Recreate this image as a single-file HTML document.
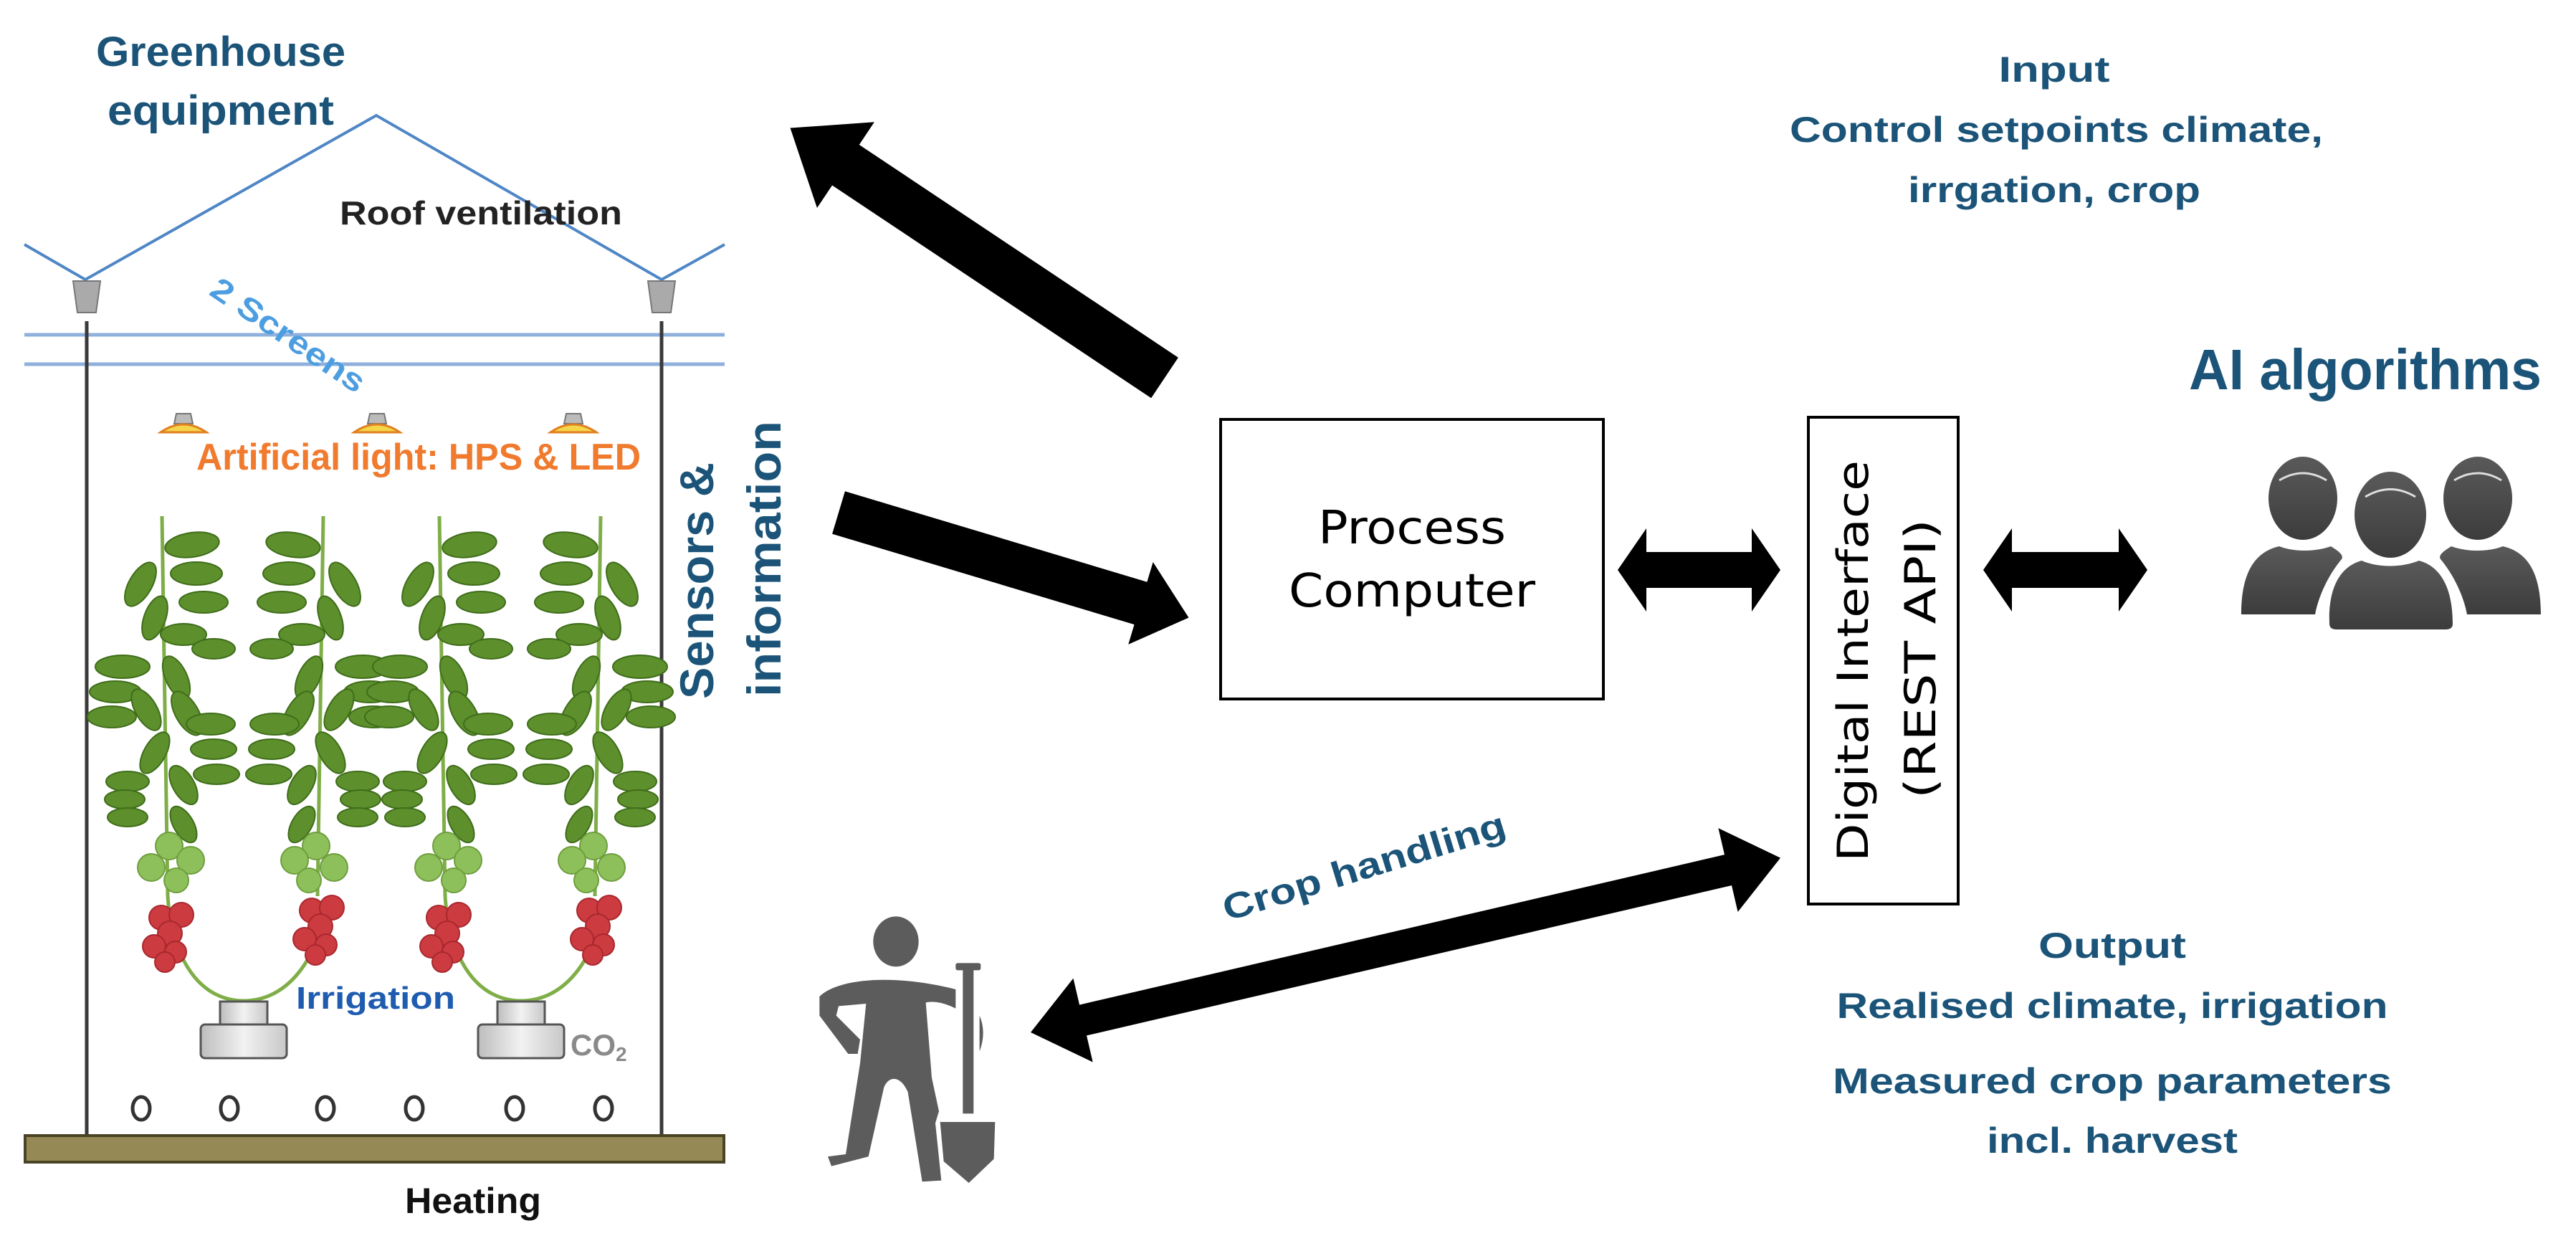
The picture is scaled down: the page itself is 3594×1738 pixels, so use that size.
<!DOCTYPE html>
<html><head><meta charset="utf-8"><style>
html,body{margin:0;padding:0;background:#fff;}
svg{display:block;}
text{font-family:"Liberation Sans Narrow","Liberation Sans",sans-serif;font-weight:bold;}
.t{fill:#1b5478;}
</style></head><body>
<svg width="3594" height="1738" viewBox="0 0 3594 1738" xmlns="http://www.w3.org/2000/svg">
<defs>
<linearGradient id="pg" x1="0" y1="0" x2="0" y2="1"><stop offset="0" stop-color="#5a5a5a"/><stop offset="1" stop-color="#3c3c3c"/></linearGradient>
<linearGradient id="pot" x1="0" y1="0" x2="1" y2="0"><stop offset="0" stop-color="#bdbdbd"/><stop offset="0.5" stop-color="#f2f2f2"/><stop offset="1" stop-color="#c8c8c8"/></linearGradient>
<g id="stem">
<path d="M0,720 L8,1250" stroke="#7fae48" stroke-width="5" fill="none"/>
<g fill="#5d8f2c" stroke="#3f6d1a" stroke-width="2">
<ellipse cx="42" cy="760" rx="38" ry="17" transform="rotate(-8 42 760)"/>
<ellipse cx="48" cy="800" rx="36" ry="16"/>
<ellipse cx="-30" cy="815" rx="16" ry="34" transform="rotate(30 -30 815)"/>
<ellipse cx="58" cy="840" rx="34" ry="15"/>
<ellipse cx="-10" cy="862" rx="15" ry="32" transform="rotate(20 -10 862)"/>
<ellipse cx="30" cy="885" rx="32" ry="15"/>
<ellipse cx="72" cy="905" rx="30" ry="14"/>
<ellipse cx="-55" cy="930" rx="38" ry="16"/>
<ellipse cx="-65" cy="965" rx="36" ry="15"/>
<ellipse cx="-70" cy="1000" rx="34" ry="15"/>
<ellipse cx="-22" cy="990" rx="15" ry="32" transform="rotate(-30 -22 990)"/>
<ellipse cx="20" cy="945" rx="15" ry="32" transform="rotate(-25 20 945)"/>
<ellipse cx="35" cy="995" rx="16" ry="34" transform="rotate(-30 35 995)"/>
<ellipse cx="68" cy="1010" rx="34" ry="15"/>
<ellipse cx="72" cy="1045" rx="32" ry="14"/>
<ellipse cx="76" cy="1080" rx="32" ry="14"/>
<ellipse cx="-10" cy="1050" rx="15" ry="32" transform="rotate(30 -10 1050)"/>
<ellipse cx="30" cy="1095" rx="15" ry="30" transform="rotate(-30 30 1095)"/>
<ellipse cx="-48" cy="1090" rx="30" ry="14"/>
<ellipse cx="-52" cy="1115" rx="28" ry="13"/>
<ellipse cx="-48" cy="1140" rx="28" ry="13"/>
<ellipse cx="30" cy="1150" rx="14" ry="28" transform="rotate(-30 30 1150)"/>
</g>
<g fill="#8dc05a" stroke="#6e9e3e" stroke-width="2">
<circle cx="10" cy="1180" r="19"/><circle cx="40" cy="1200" r="19"/><circle cx="-15" cy="1210" r="19"/><circle cx="20" cy="1228" r="17"/>
</g>
</g>
<g id="toms" fill="#cc3b40" stroke="#a8282e" stroke-width="2">
<circle cx="0" cy="0" r="17"/><circle cx="28" cy="-4" r="17"/><circle cx="12" cy="22" r="17"/><circle cx="-10" cy="40" r="16"/><circle cx="20" cy="48" r="15"/><circle cx="5" cy="62" r="14"/>
</g>
<g id="pair">
<use href="#stem" x="-114"/>
<g transform="translate(111,0) scale(-1,1)"><use href="#stem"/></g>
<path d="M-106,1250 C-100,1340 -60,1396 0,1396 C60,1396 105,1340 118,1250" stroke="#7fae48" stroke-width="5" fill="none"/>
<use href="#toms" x="-115" y="1280"/>
<use href="#toms" x="95" y="1270"/>
<rect x="-33" y="1397" width="66" height="32" fill="url(#pot)" stroke="#555" stroke-width="3"/>
<rect x="-60" y="1429" width="120" height="47" rx="6" fill="url(#pot)" stroke="#555" stroke-width="3"/>
</g>
<g id="lamp">
<path d="M-10,0 L10,0 L13,14 L-13,14 Z" fill="#bbb" stroke="#777" stroke-width="2"/>
<path d="M-32,26 Q0,4 32,26 Z" fill="#f5d54a" stroke="#e08020" stroke-width="3"/>
</g>
</defs>

<!-- Greenhouse -->
<text x="308" y="92" font-size="58" class="t" text-anchor="middle" textLength="348" lengthAdjust="spacingAndGlyphs" style="font-family:'Liberation Sans',sans-serif">Greenhouse</text>
<text x="308" y="174" font-size="58" class="t" text-anchor="middle" textLength="316" lengthAdjust="spacingAndGlyphs" style="font-family:'Liberation Sans',sans-serif">equipment</text>
<polyline points="34,341 119,390 525,161 923,390 1011,341" fill="none" stroke="#4f86c6" stroke-width="4"/>
<text x="474" y="313" font-size="46" fill="#222" textLength="394" lengthAdjust="spacingAndGlyphs">Roof ventilation</text>
<path d="M102,392 L140,392 L134,436 L108,436 Z" fill="#aaa" stroke="#777" stroke-width="2"/>
<path d="M904,392 L942,392 L936,436 L910,436 Z" fill="#aaa" stroke="#777" stroke-width="2"/>
<line x1="34" y1="467" x2="1011" y2="467" stroke="#8fb0dc" stroke-width="5"/>
<line x1="34" y1="508" x2="1011" y2="508" stroke="#8fb0dc" stroke-width="5"/>
<text transform="translate(290,410) rotate(34)" font-size="44" fill="#4d9ee0" textLength="250" lengthAdjust="spacingAndGlyphs">2 Screens</text>
<line x1="121" y1="448" x2="121" y2="1585" stroke="#3a3a3a" stroke-width="5"/>
<line x1="923" y1="448" x2="923" y2="1585" stroke="#3a3a3a" stroke-width="5"/>
<use href="#lamp" x="256" y="577"/><use href="#lamp" x="526" y="577"/><use href="#lamp" x="800" y="577"/>
<text x="274" y="655" font-size="52" fill="#f07a2e" textLength="620" lengthAdjust="spacingAndGlyphs">Artificial light: HPS &amp; LED</text>
<use href="#pair" x="340"/>
<use href="#pair" x="727"/>
<text x="413" y="1407" font-size="44" fill="#1f5cb0" textLength="222" lengthAdjust="spacingAndGlyphs" style="font-family:'Liberation Sans',sans-serif">Irrigation</text>
<text x="796" y="1472" font-size="42" fill="#8a8a8a">CO<tspan font-size="28" dy="8">2</tspan></text>
<g fill="none" stroke="#333" stroke-width="5">
<ellipse cx="197" cy="1546" rx="12" ry="16"/><ellipse cx="320" cy="1546" rx="12" ry="16"/><ellipse cx="454" cy="1546" rx="12" ry="16"/><ellipse cx="578" cy="1546" rx="12" ry="16"/><ellipse cx="718" cy="1546" rx="12" ry="16"/><ellipse cx="842" cy="1546" rx="12" ry="16"/>
</g>
<rect x="35" y="1584" width="975" height="37" fill="#958a55" stroke="#4a4325" stroke-width="4"/>
<text x="660" y="1692" font-size="50" fill="#111" text-anchor="middle" textLength="190" lengthAdjust="spacingAndGlyphs">Heating</text>
<text transform="translate(995,975) rotate(-90)" font-size="66" class="t" textLength="330" lengthAdjust="spacingAndGlyphs" style="font-family:'Liberation Sans',sans-serif">Sensors &amp;</text>
<text transform="translate(1089,972) rotate(-90)" font-size="66" class="t" textLength="385" lengthAdjust="spacingAndGlyphs" style="font-family:'Liberation Sans',sans-serif">information</text>

<!-- Arrows -->
<g transform="translate(1625,527) rotate(213.7)"><polygon points="0,-34 535,-34 535,-72 628,0 535,72 535,34 0,34" fill="#000"/></g>
<g transform="translate(1170,715) rotate(16.7)"><polygon points="0,-31 440,-31 440,-60 510,0 440,60 440,31 0,31" fill="#000"/></g>
<polygon points="2257,795 2297,737 2297,770 2444,770 2444,737 2484,795 2444,853 2444,820 2297,820 2297,853" fill="#000"/>
<polygon points="2767,795 2807,737 2807,770 2956,770 2956,737 2996,795 2956,853 2956,820 2807,820 2807,853" fill="#000"/>
<g transform="translate(1438,1440) rotate(-13.1)"><polygon points="0,0 75,-60 75,-22 999,-22 999,-60 1074,0 999,60 999,22 75,22 75,60" fill="#000"/></g>

<!-- Boxes -->
<rect x="1703" y="585" width="534" height="390" fill="#fff" stroke="#000" stroke-width="4"/>
<text x="1970" y="758" font-size="64" text-anchor="middle" fill="#000" textLength="262" lengthAdjust="spacingAndGlyphs" style="font-family:'DejaVu Sans Condensed','DejaVu Sans',sans-serif;font-weight:normal">Process</text>
<text x="1970" y="846" font-size="64" text-anchor="middle" fill="#000" textLength="344" lengthAdjust="spacingAndGlyphs" style="font-family:'DejaVu Sans Condensed','DejaVu Sans',sans-serif;font-weight:normal">Computer</text>
<rect x="2523" y="582" width="209" height="679" fill="#fff" stroke="#000" stroke-width="4"/>
<text transform="translate(2606,1202) rotate(-90)" font-size="60" fill="#000" textLength="560" lengthAdjust="spacingAndGlyphs" style="font-family:'DejaVu Sans',sans-serif;font-weight:normal">Digital Interface</text>
<text transform="translate(2700,1114) rotate(-90)" font-size="60" fill="#000" textLength="390" lengthAdjust="spacingAndGlyphs" style="font-family:'DejaVu Sans',sans-serif;font-weight:normal">(REST API)</text>

<!-- Right texts -->
<text x="2866" y="114" font-size="50" class="t" text-anchor="middle" textLength="155" lengthAdjust="spacingAndGlyphs">Input</text>
<text x="2869" y="198" font-size="50" class="t" text-anchor="middle" textLength="744" lengthAdjust="spacingAndGlyphs">Control setpoints climate,</text>
<text x="2866" y="282" font-size="50" class="t" text-anchor="middle" textLength="408" lengthAdjust="spacingAndGlyphs">irrgation, crop</text>
<text x="3300" y="543" font-size="80" class="t" text-anchor="middle" textLength="492" lengthAdjust="spacingAndGlyphs">AI algorithms</text>
<text x="2947" y="1336" font-size="50" class="t" text-anchor="middle" textLength="206" lengthAdjust="spacingAndGlyphs">Output</text>
<text x="2947" y="1420" font-size="50" class="t" text-anchor="middle" textLength="769" lengthAdjust="spacingAndGlyphs">Realised climate, irrigation</text>
<text x="2947" y="1525" font-size="50" class="t" text-anchor="middle" textLength="780" lengthAdjust="spacingAndGlyphs">Measured crop parameters</text>
<text x="2947" y="1608" font-size="50" class="t" text-anchor="middle" textLength="350" lengthAdjust="spacingAndGlyphs">incl. harvest</text>
<text transform="translate(1712,1285) rotate(-17)" font-size="50" class="t" textLength="410" lengthAdjust="spacingAndGlyphs">Crop handling</text>

<!-- People icon -->
<g fill="url(#pg)">
<path d="M3127,857 C3127,800 3145,770 3180,762 C3200,770 3230,770 3252,762 C3265,770 3270,775 3267,780 C3250,800 3235,830 3230,857 Z"/>
<ellipse cx="3213" cy="695" rx="48" ry="58"/>
<path d="M3545,857 C3545,800 3527,770 3492,762 C3472,770 3442,770 3420,762 C3407,770 3402,775 3405,780 C3422,800 3437,830 3442,857 Z"/>
<ellipse cx="3457" cy="695" rx="48" ry="58"/>
<path d="M3250,870 C3248,820 3265,790 3295,782 C3318,792 3350,792 3375,782 C3405,790 3422,820 3422,870 Q3422,878 3412,878 L3260,878 Q3250,878 3250,870 Z"/>
<ellipse cx="3335" cy="718" rx="50" ry="60"/>
</g>
<g fill="none" stroke="#ddd" stroke-width="3">
<path d="M3180,670 Q3213,650 3246,670"/><path d="M3424,670 Q3457,650 3490,670"/><path d="M3300,693 Q3335,672 3370,693"/>
</g>

<!-- Farmer -->
<g fill="#5c5c5c" transform="translate(1100,1250) scale(0.3333)">
<ellipse cx="450" cy="190" rx="95" ry="105"/>
<path d="M130,420 C200,350 420,320 700,390 L700,470 C640,440 600,440 575,445 L600,760 L630,900 L615,950 L640,1190 L560,1195 L500,820 C470,750 420,750 400,800 L335,1090 L180,1130 L165,1090 L240,1080 L300,700 L325,450 L210,460 L200,500 L300,600 L290,660 L250,660 L130,500 Z"/>
<rect x="730" y="300" width="45" height="610"/>
<rect x="700" y="280" width="105" height="30" rx="8"/>
<path d="M635,945 L865,945 L860,1100 L755,1200 L650,1110 Z"/>
<path d="M800,500 Q830,570 800,650 Z"/>
</g>
</svg>
</body></html>
